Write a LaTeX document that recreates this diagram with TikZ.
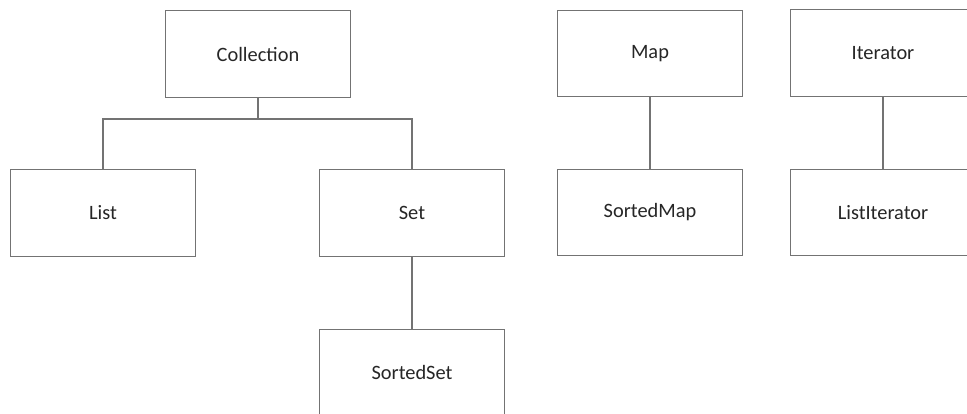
\documentclass[tikz,border=0pt]{standalone}
\usepackage{fontspec}
\setmainfont{Carlito}

\begin{document}
\begin{tikzpicture}[x=0.025cm, y=-0.025cm]
			\useasboundingbox (0,0) rectangle (967,414);
			\clip (0,0) rectangle (967,414);
			\tikzset{ibox/.style={draw=black!55, line width=0.9pt, fill=white, minimum width=4.63cm, minimum height=2.16cm, font=\fontsize{14.5}{17}\selectfont, text=black!85}}
			
			\node[ibox] (coll)  at (258, 54)    {Collection};
			\node[ibox] (list)  at (103, 213)   {List};
			\node[ibox] (set)   at (412, 213)   {Set};
			\node[ibox] (sset)  at (412, 372.5) {SortedSet};
			\node[ibox] (map)   at (650, 53.5)  {Map};
			\node[ibox] (smap)  at (650, 212.5) {SortedMap};
			\node[ibox] (iter)  at (883, 53)    {Iterator};
			\node[ibox] (liter) at (883, 212.5) {ListIterator};
			
			\coordinate (bus) at (258, 119);
			\draw[black!55, line width=0.9pt] (coll.south) -- (bus);
			\draw[black!55, line width=0.9pt] (list.north) |- (bus) -| (set.north);
			
			\def\list {set/sset, map/smap, iter/liter}  % straight links
			\foreach \u\v in \list
			{	\draw[black!55, line width=0.9pt] (\u) -- (\v);}
		\end{tikzpicture}
\end{document}
